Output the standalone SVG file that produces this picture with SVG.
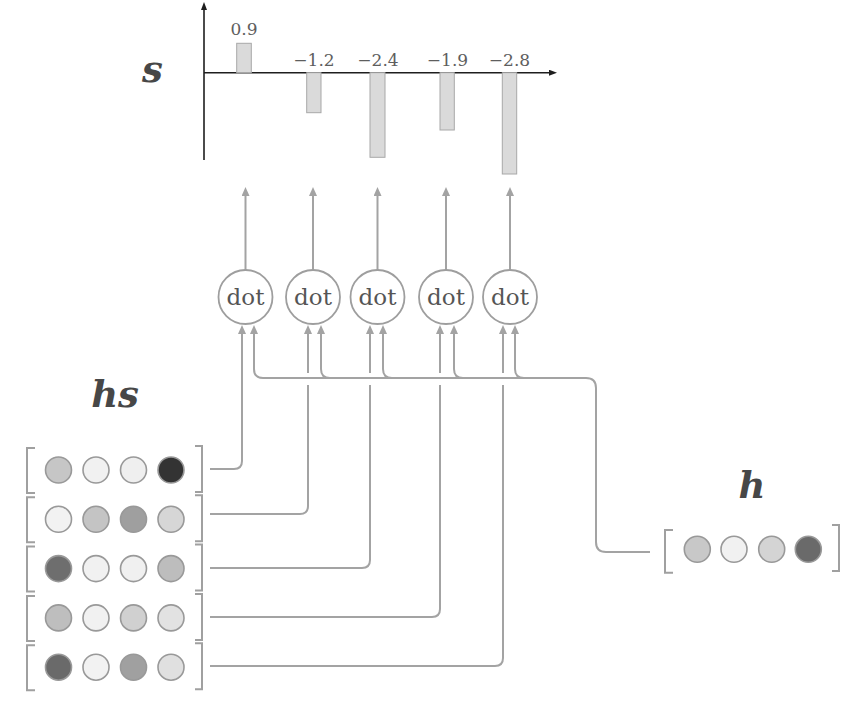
<svg xmlns="http://www.w3.org/2000/svg" width="858" height="702" viewBox="0 0 858 702">
<style>
.bg{fill:#ffffff}
.ax{stroke:#1e1e1e;stroke-width:1.6;fill:none}
.bar{fill:#dadada;stroke:#a8a8a8;stroke-width:1}
.num{font-family:"DejaVu Serif","Liberation Serif",serif;font-size:17px;fill:#5e5e5e;text-anchor:middle}
.var{font-family:"DejaVu Serif",serif;font-weight:bold;font-style:italic;font-size:37px;fill:#474747;text-anchor:middle}
.dotc{fill:#ffffff;stroke:#9e9e9e;stroke-width:1.8}
.dott{font-family:"DejaVu Serif","Liberation Serif",serif;font-size:23px;fill:#555;text-anchor:middle}
.con{fill:none;stroke:#a3a3a3;stroke-width:2}
.br{fill:none;stroke:#a0a0a0;stroke-width:2}
.cell{stroke:#999;stroke-width:1.6}
</style>
<defs>
<marker id="ag" viewBox="0 0 9 8" refX="0" refY="4" markerWidth="9" markerHeight="8" markerUnits="userSpaceOnUse" orient="auto"><path d="M0,0 L9,4 L0,8 z" fill="#a3a3a3"/></marker>
<marker id="ab" viewBox="0 0 8 6" refX="0" refY="3" markerWidth="8" markerHeight="6" markerUnits="userSpaceOnUse" orient="auto"><path d="M0,0 L8,3 L0,6 z" fill="#1e1e1e"/></marker>
</defs>
<rect class="bg" x="0" y="0" width="858" height="702"/>

<g id="chart">
<path class="ax" d="M204,160 V10" marker-end="url(#ab)"/>
<path class="ax" d="M204,72.7 H549" marker-end="url(#ab)"/>
<rect class="bar" x="236.7" y="43.3" width="14.6" height="29.4"/>
<rect class="bar" x="306.7" y="72.7" width="14.3" height="40"/>
<rect class="bar" x="370" y="72.7" width="15" height="84.6"/>
<rect class="bar" x="440" y="72.7" width="14.3" height="57.3"/>
<rect class="bar" x="502.3" y="72.7" width="14.4" height="101.3"/>
<text class="num" x="244" y="35">0.9</text>
<text class="num" x="314" y="66">−1.2</text>
<text class="num" x="378" y="66">−2.4</text>
<text class="num" x="447.5" y="66">−1.9</text>
<text class="num" x="509.5" y="66">−2.8</text>
<text class="var" x="152.5" y="82">s</text>
</g>

<g id="connectors">
<path class="con" d="M245.5,270 V196" marker-end="url(#ag)"/>
<path class="con" d="M313,270 V196" marker-end="url(#ag)"/>
<path class="con" d="M377.5,270 V196" marker-end="url(#ag)"/>
<path class="con" d="M446,270 V196" marker-end="url(#ag)"/>
<path class="con" d="M510,270 V196" marker-end="url(#ag)"/>

<path class="con" d="M210,469 H234 Q242,469 242,461 V334" marker-end="url(#ag)"/>
<path class="con" d="M210,514 H300 Q308,514 308,506 V385"/>
<path class="con" d="M308,373 V334" marker-end="url(#ag)"/>
<path class="con" d="M210,568 H362 Q370,568 370,560 V385"/>
<path class="con" d="M370,373 V334" marker-end="url(#ag)"/>
<path class="con" d="M210,617 H432 Q440,617 440,609 V385"/>
<path class="con" d="M440,373 V334" marker-end="url(#ag)"/>
<path class="con" d="M210,666 H495 Q503,666 503,658 V385"/>
<path class="con" d="M503,373 V334" marker-end="url(#ag)"/>

<path class="con" d="M650,552 H606 Q596,552 596,542 V388 Q596,378 586,378 H263 Q254,378 254,369 V334" marker-end="url(#ag)"/>
<path class="con" d="M330,378 Q321,378 321,369 V334" marker-end="url(#ag)"/>
<path class="con" d="M392,378 Q383,378 383,369 V334" marker-end="url(#ag)"/>
<path class="con" d="M463,378 Q454,378 454,369 V334" marker-end="url(#ag)"/>
<path class="con" d="M524,378 Q515,378 515,369 V334" marker-end="url(#ag)"/>
</g>

<g id="dot1"><circle class="dotc" cx="245.5" cy="297" r="27"/><text class="dott" x="245.5" y="305">dot</text></g>
<g id="dot2"><circle class="dotc" cx="313" cy="297" r="27"/><text class="dott" x="313" y="305">dot</text></g>
<g id="dot3"><circle class="dotc" cx="377.5" cy="297" r="27"/><text class="dott" x="377.5" y="305">dot</text></g>
<g id="dot4"><circle class="dotc" cx="446" cy="297" r="27"/><text class="dott" x="446" y="305">dot</text></g>
<g id="dot5"><circle class="dotc" cx="510" cy="297" r="27"/><text class="dott" x="510" y="305">dot</text></g>

<g id="hs">
<text class="var" x="115" y="407" font-size="39">hs</text>
<g id="hs-row1">
<path class="br" d="M35,448 H27 V493 H35"/><path class="br" d="M195,446 H202 V492 H195"/>
<circle class="cell" cx="58.5" cy="470" r="13" fill="#c6c6c6"/>
<circle class="cell" cx="96" cy="470" r="13" fill="#f1f1f1"/>
<circle class="cell" cx="133.5" cy="470" r="13" fill="#efefef"/>
<circle class="cell" cx="171" cy="470" r="13" fill="#333333" stroke="#555"/>
</g>
<g id="hs-row2">
<path class="br" d="M35,497.3 H27 V542.3 H35"/><path class="br" d="M195,495.3 H202 V541.3 H195"/>
<circle class="cell" cx="58.5" cy="519.3" r="13" fill="#f2f2f2"/>
<circle class="cell" cx="96" cy="519.3" r="13" fill="#c4c4c4"/>
<circle class="cell" cx="133.5" cy="519.3" r="13" fill="#9f9f9f" stroke="#999"/>
<circle class="cell" cx="171" cy="519.3" r="13" fill="#d6d6d6"/>
</g>
<g id="hs-row3">
<path class="br" d="M35,546.6 H27 V591.6 H35"/><path class="br" d="M195,544.6 H202 V590.6 H195"/>
<circle class="cell" cx="58.5" cy="568.6" r="13" fill="#6e6e6e" stroke="#777"/>
<circle class="cell" cx="96" cy="568.6" r="13" fill="#f1f1f1"/>
<circle class="cell" cx="133.5" cy="568.6" r="13" fill="#f0f0f0"/>
<circle class="cell" cx="171" cy="568.6" r="13" fill="#bdbdbd"/>
</g>
<g id="hs-row4">
<path class="br" d="M35,595.9 H27 V640.9 H35"/><path class="br" d="M195,593.9 H202 V639.9 H195"/>
<circle class="cell" cx="58.5" cy="617.9" r="13" fill="#bebebe"/>
<circle class="cell" cx="96" cy="617.9" r="13" fill="#f1f1f1"/>
<circle class="cell" cx="133.5" cy="617.9" r="13" fill="#d0d0d0"/>
<circle class="cell" cx="171" cy="617.9" r="13" fill="#e2e2e2"/>
</g>
<g id="hs-row5">
<path class="br" d="M35,645.2 H27 V690.2 H35"/><path class="br" d="M195,643.2 H202 V689.2 H195"/>
<circle class="cell" cx="58.5" cy="667.2" r="13" fill="#6a6a6a" stroke="#777"/>
<circle class="cell" cx="96" cy="667.2" r="13" fill="#f2f2f2"/>
<circle class="cell" cx="133.5" cy="667.2" r="13" fill="#a0a0a0" stroke="#999"/>
<circle class="cell" cx="171" cy="667.2" r="13" fill="#e0e0e0"/>
</g>
</g>

<g id="h">
<text class="var" x="752" y="498">h</text>
<path class="br" d="M673,530 H665 V572.7 H673"/><path class="br" d="M832,525 H839 V571 H832"/>
<circle class="cell" cx="697.3" cy="549.3" r="13" fill="#c8c8c8"/>
<circle class="cell" cx="734" cy="549.3" r="13" fill="#f1f1f1"/>
<circle class="cell" cx="771.7" cy="549.3" r="13" fill="#d4d4d4"/>
<circle class="cell" cx="808.3" cy="549.3" r="13" fill="#6a6a6a" stroke="#777"/>
</g>
</svg>
